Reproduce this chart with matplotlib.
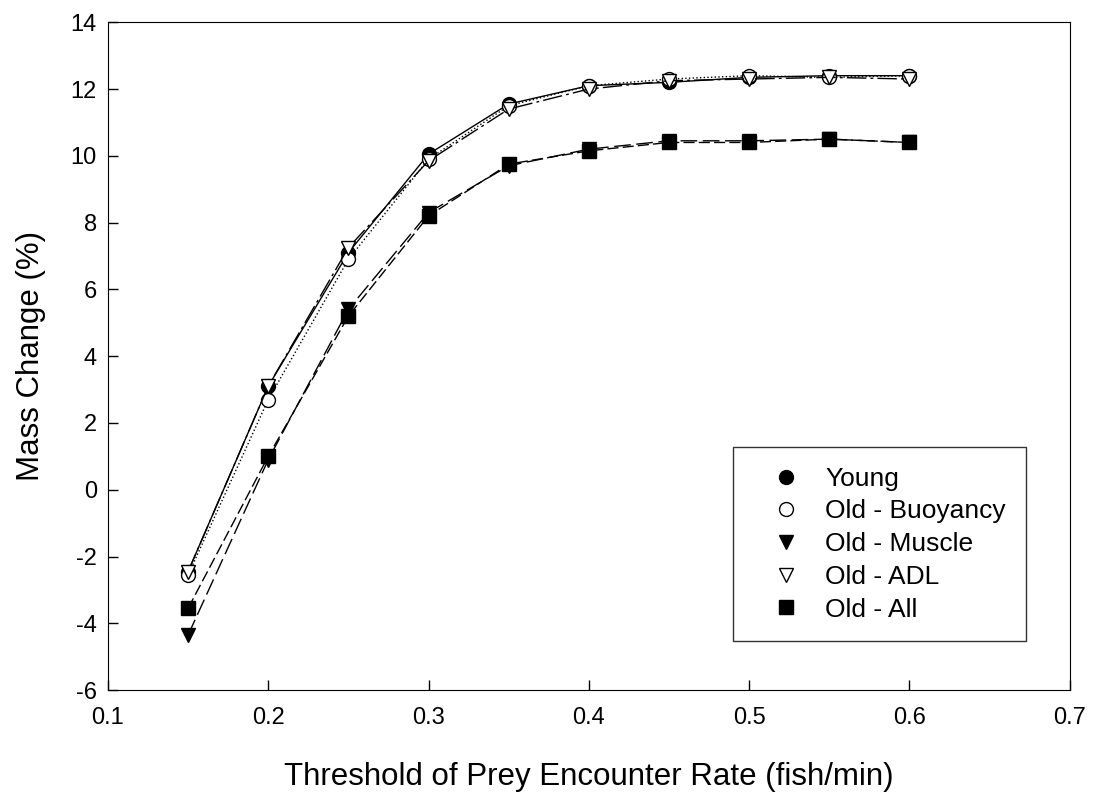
import numpy as np
import matplotlib
matplotlib.use("Agg")
import matplotlib.pyplot as plt

plt.rcParams['font.family'] = ['Liberation Sans', 'DejaVu Sans']
plt.rcParams['axes.unicode_minus'] = False

# --- Data ---
threshold = [0.15, 0.20, 0.25, 0.30, 0.35, 0.40, 0.45, 0.50, 0.55, 0.60]
young = [-2.45, 3.1, 7.1, 10.05, 11.55, 12.1, 12.2, 12.35, 12.4, 12.4]
old_buoyancy = [-2.55, 2.7, 6.9, 9.9, 11.5, 12.1, 12.3, 12.4, 12.35, 12.4]
old_muscle = [-4.35, 0.9, 5.4, 8.3, 9.7, 10.2, 10.45, 10.45, 10.5, 10.4]
old_adl = [-2.45, 3.1, 7.25, 9.85, 11.4, 12.0, 12.25, 12.3, 12.35, 12.3]
old_all = [-3.55, 1.0, 5.2, 8.2, 9.75, 10.15, 10.4, 10.4, 10.5, 10.4]
x_ticks = [0.1, 0.2, 0.3, 0.4, 0.5, 0.6, 0.7]
y_ticks = [-6, -4, -2, 0, 2, 4, 6, 8, 10, 12, 14]

series = [
    ("Young", young, 'o', 'black', '-'),
    ("Old - Buoyancy", old_buoyancy, 'o', 'white', ':'),
    ("Old - Muscle", old_muscle, 'v', 'black', (0, (12, 4))),
    ("Old - ADL", old_adl, 'v', 'white', (0, (14, 3, 2, 3))),
    ("Old - All", old_all, 's', 'black', (0, (8, 3))),
]

fig = plt.figure(figsize=(10.94, 7.95), dpi=100)
ax = fig.add_axes([0.0987, 0.132, 0.879, 0.840])

for label, vals, marker, face, ls in series:
    ax.plot(threshold, vals, color='black', linestyle=ls, linewidth=1.0)
    ax.plot(threshold, vals, linestyle='none', marker=marker, markersize=10,
            markerfacecolor=face, markeredgecolor='black', markeredgewidth=1.0,
            label=label)

ax.set_xlim(0.1, 0.7)
ax.set_ylim(-6, 14)
ax.set_xticks(x_ticks)
ax.set_yticks(y_ticks)
ax.set_xticklabels([f"{v:.1f}" for v in x_ticks])
ax.set_yticklabels([str(v) for v in y_ticks])
ax.tick_params(direction='in', labelsize=17, length=7, width=1, pad=8)
ax.tick_params(axis='x', pad=12)

ax.set_xlabel("Threshold of Prey Encounter Rate (fish/min)", fontsize=22.5, labelpad=24)
ax.set_ylabel("Mass Change (%)", fontsize=22.5, labelpad=18)

leg = ax.legend(loc='upper left', bbox_to_anchor=(0.650, 0.364), fontsize=19,
                frameon=True, fancybox=False, edgecolor='black', borderpad=0.75,
                handletextpad=0.2, labelspacing=0.33, borderaxespad=0,
                handlelength=2.55)
leg.get_frame().set_linewidth(1.0)

fig.savefig("out.png", dpi=100)
